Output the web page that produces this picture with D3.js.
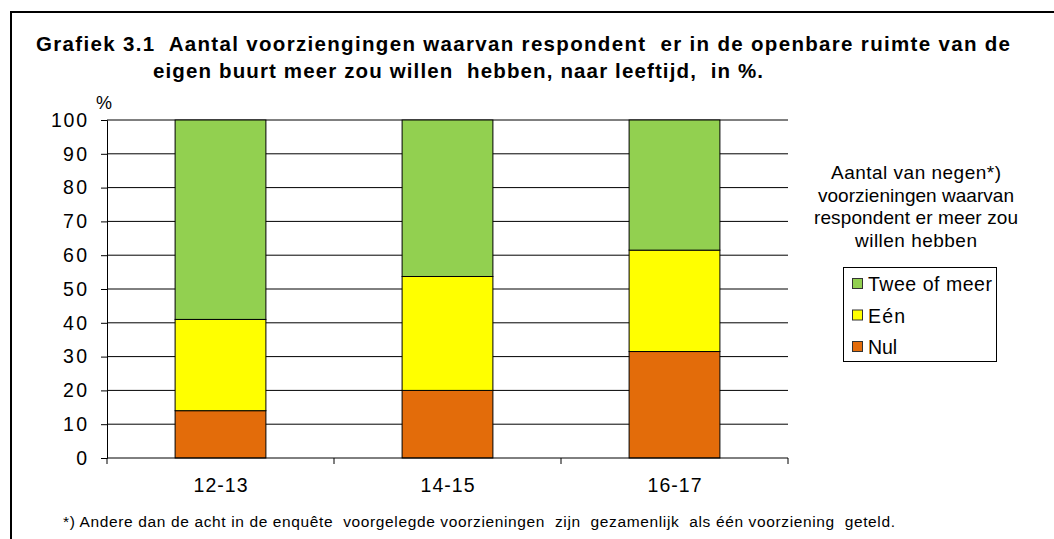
<!DOCTYPE html>
<html>
<head>
	<meta charset="utf-8">
	<title>Grafiek 3.1</title>
	<script src="https://d3js.org/d3.v7.min.js"></script>
	<style>
		body { margin: 0; background: #fff; }
		text { font-family: "Liberation Sans", Arial, sans-serif; fill: #000; white-space: pre; }
	</style>
</head>
<body>
	<div id="chart"></div>
	<script>
		// data
		const ageGroups = ["12-13", "14-15", "16-17"];
		const seriesNames = ["Nul", "Eén", "Twee of meer"];
		const nul = [14, 20, 31.5];
		const een = [27, 33.7, 30];
		const tweeOfMeer = [59, 46.3, 38.5];
		const yTicks = [0, 10, 20, 30, 40, 50, 60, 70, 80, 90, 100];
		const colors = ["#E36C0A", "#FFFF00", "#92D050"];

		const W = 1054, H = 539;
		const margin = { top: 120, left: 107, right: 266, bottom: 81 };

		const svg = d3.select("#chart").append("svg")
			.attr("width", W).attr("height", H);

		// outer frame (left + top only visible)
		svg.append("path")
			.attr("d", `M11,${H} L11,12 L${W},12`)
			.attr("fill", "none").attr("stroke", "#000").attr("stroke-width", 2);

		// title
		svg.append("text").attr("x", 36).attr("y", 51)
			.attr("textLength", 974).attr("lengthAdjust", "spacing")
			.style("font-size", "20.5px").style("font-weight", "bold")
			.text("Grafiek 3.1  Aantal voorziengingen waarvan respondent  er in de openbare ruimte van de");
		svg.append("text").attr("x", 153).attr("y", 78)
			.attr("textLength", 610).attr("lengthAdjust", "spacing")
			.style("font-size", "20.5px").style("font-weight", "bold")
			.text("eigen buurt meer zou willen  hebben, naar leeftijd,  in %.");

		const x = d3.scaleBand().domain(ageGroups)
			.range([margin.left, W - margin.right]).paddingInner(0.6).paddingOuter(0.3);
		const y = d3.scaleLinear().domain([0, 100]).range([H - margin.bottom, margin.top]);

		// gridlines
		svg.append("g").selectAll("line").data(yTicks.slice(1)).join("line")
			.attr("x1", margin.left).attr("x2", W - margin.right)
			.attr("y1", d => y(d)).attr("y2", d => y(d))
			.attr("stroke", "#000").attr("stroke-width", 1);

		// stacked bars
		const table = ageGroups.map((g, i) => ({ group: g, "Nul": nul[i], "Eén": een[i], "Twee of meer": tweeOfMeer[i] }));
		const stack = d3.stack().keys(seriesNames)(table);
		svg.append("g").selectAll("g").data(stack).join("g")
			.attr("fill", (d, i) => colors[i])
			.selectAll("rect").data(d => d).join("rect")
			.attr("x", d => x(d.data.group))
			.attr("width", x.bandwidth())
			.attr("y", d => y(d[1]))
			.attr("height", d => y(d[0]) - y(d[1]))
			.attr("stroke", "#000").attr("stroke-width", 1);

		// y axis
		const yAxis = svg.append("g").attr("transform", `translate(${margin.left},0)`)
			.call(d3.axisLeft(y).tickValues(yTicks).tickSize(6).tickPadding(14));
		yAxis.selectAll("text")
			.style("font-size", "19.5px").style("font-family", "Liberation Sans, Arial, sans-serif")
			.attr("textLength", d => String(d).length * 12).attr("lengthAdjust", "spacing");
		yAxis.select(".domain").attr("stroke", "#000");

		// x axis with ticks at band boundaries
		const bandStep = (W - margin.right - margin.left) / ageGroups.length;
		const xAxis = svg.append("g").attr("transform", `translate(0,${H - margin.bottom})`);
		xAxis.append("line").attr("x1", margin.left).attr("x2", W - margin.right)
			.attr("stroke", "#000");
		xAxis.selectAll(".tk").data(d3.range(ageGroups.length + 1)).join("line")
			.attr("x1", i => margin.left + i * bandStep).attr("x2", i => margin.left + i * bandStep)
			.attr("y1", 0).attr("y2", 6).attr("stroke", "#000");
		xAxis.selectAll("text").data(ageGroups).join("text")
			.attr("x", d => x(d) + x.bandwidth() / 2 - 27).attr("y", 34)
			.attr("textLength", 54).attr("lengthAdjust", "spacing")
			.style("font-size", "19.5px")
			.text(d => d);

		svg.append("text").attr("x", 104).attr("y", 109)
			.attr("text-anchor", "middle").style("font-size", "18px").text("%");

		// legend title
		const legendTitle = ["Aantal van negen*)", "voorzieningen waarvan", "respondent er meer zou", "willen hebben"];
		const legendTitleW = [170, 196, 204, 122];
		svg.append("g").selectAll("text").data(legendTitle).join("text")
			.attr("x", (d, i) => 916 - legendTitleW[i] / 2).attr("y", (d, i) => 179 + i * 22.5)
			.attr("textLength", (d, i) => legendTitleW[i]).attr("lengthAdjust", "spacing")
			.style("font-size", "19px")
			.text(d => d);

		// legend box
		const lg = svg.append("g");
		lg.append("rect").attr("x", 843.5).attr("y", 267.5).attr("width", 153).attr("height", 94)
			.attr("fill", "#fff").attr("stroke", "#000");
		const legendOrder = [2, 1, 0];
		const legendTextW = { 2: 124, 1: 37, 0: 29 };
		const items = lg.selectAll("g").data(legendOrder).join("g")
			.attr("transform", (d, i) => `translate(852,${284 + i * 31.5})`);
		items.append("rect").attr("x", 0.5).attr("y", -5.5).attr("width", 10).attr("height", 10)
			.attr("fill", d => colors[d]).attr("stroke", "#333");
		items.append("text").attr("x", 16).attr("y", 7)
			.attr("textLength", d => legendTextW[d]).attr("lengthAdjust", "spacing")
			.style("font-size", "19.5px").text(d => seriesNames[d]);

		// footnote
		svg.append("text").attr("x", 63).attr("y", 527)
			.attr("textLength", 832).attr("lengthAdjust", "spacing")
			.style("font-size", "15.5px")
			.text("*) Andere dan de acht in de enquête  voorgelegde voorzieningen  zijn  gezamenlijk  als één voorziening  geteld.");
	</script>
</body>
</html>
